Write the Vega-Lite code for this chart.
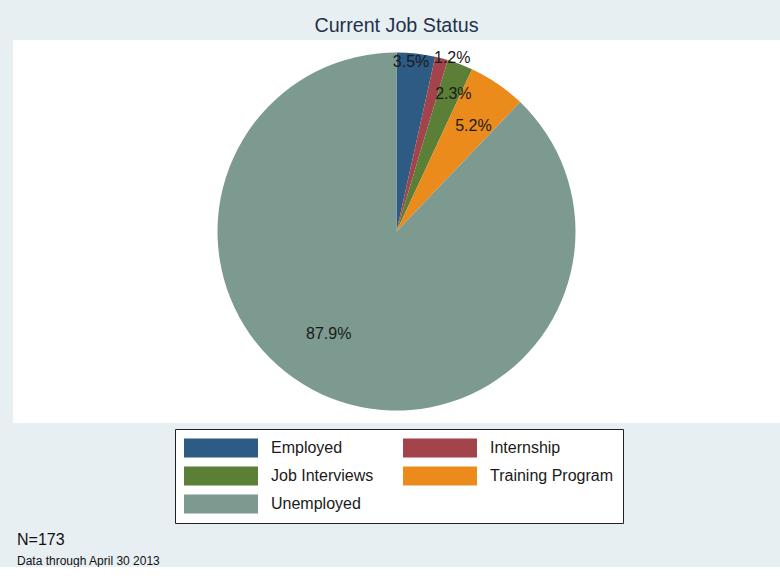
{
  "$schema": "https://vega.github.io/schema/vega-lite/v6.json",
  "background": "#e8eff2",
  "padding": {"left": 13, "right": 0, "top": 16, "bottom": 0},
  "title": {"text": "Current Job Status", "fontSize": 19.7, "fontWeight": "normal", "color": "#23314a", "font": "Liberation Sans", "offset": 4, "anchor": "middle"},
  "resolve": {"legend": {"color": "independent"}},
  "vconcat": [
    {
      "width": 767,
      "height": 383,
      "view": {"fill": "#ffffff", "stroke": null},
      "title": {"text": "N=173", "subtitle": "Data through April 30 2013", "orient": "bottom", "anchor": "start", "font": "Liberation Sans", "subtitleFont": "Liberation Sans", "fontSize": 16, "fontWeight": "normal", "subtitleFontSize": 12, "color": "#111111", "subtitleColor": "#111111", "offset": 8, "dx": 4, "subtitlePadding": 8},
      "data": {"values": [
        {"status": "Employed", "n": 6, "label": "3.5%"},
        {"status": "Internship", "n": 2, "label": "1.2%"},
        {"status": "Job Interviews", "n": 4, "label": "2.3%"},
        {"status": "Training Program", "n": 9, "label": "5.2%"},
        {"status": "Unemployed", "n": 152, "label": "87.9%"}
      ]},
      "layer": [
        {
          "mark": {"type": "arc", "outerRadius": 179, "strokeWidth": 0},
          "encoding": {
            "theta": {"field": "n", "type": "quantitative", "stack": true},
            "order": {"field": "status", "sort": "ascending"},
            "color": {
              "field": "status", "type": "nominal",
              "scale": {"domain": ["Employed", "Internship", "Job Interviews", "Training Program", "Unemployed"], "range": ["#2d5b84", "#a3444c", "#5c7f37", "#ea8b1c", "#7c9a8f"]},
              "legend": {
                "orient": "none", "legendX": 162, "legendY": 389, "columns": 2, "direction": "horizontal", "title": null,
                "symbolType": "M-1,-0.257H1V0.257H-1Z", "symbolSize": 5476, "symbolStrokeWidth": 0, "symbolOpacity": 1,
                "clipHeight": 20, "rowPadding": 8, "columnPadding": 29, "labelOffset": 13,
                "labelFontSize": 16, "labelFont": "Liberation Sans", "labelColor": "#1a1a1a", "labelLimit": 300,
                "padding": 9, "strokeColor": "#222222", "fillColor": "white",
                "encoding": {"legend": {"update": {"strokeWidth": {"value": 2}}}}
              }
            }
          }
        },
        {
          "mark": {"type": "text", "radius": 170.6, "dx": -4, "dy": 0, "fontSize": 16, "font": "Liberation Sans", "fill": "#1a1a1a", "align": "center", "baseline": "middle"},
          "encoding": {
            "theta": {"field": "n", "type": "quantitative", "stack": true},
            "order": {"field": "status", "sort": "ascending"},
            "detail": {"field": "status", "type": "nominal"},
            "text": {"condition": {"test": "datum.status === 'Employed'", "field": "label"}, "value": ""}
          }
        },
        {
          "mark": {"type": "text", "radius": 181.9, "dx": 10, "dy": 2.5, "fontSize": 16, "font": "Liberation Sans", "fill": "#1a1a1a", "align": "center", "baseline": "middle"},
          "encoding": {
            "theta": {"field": "n", "type": "quantitative", "stack": true},
            "order": {"field": "status", "sort": "ascending"},
            "detail": {"field": "status", "type": "nominal"},
            "text": {"condition": {"test": "datum.status === 'Internship'", "field": "label"}, "value": ""}
          }
        },
        {
          "mark": {"type": "text", "radius": 148.8, "dx": 4, "dy": 1.5, "fontSize": 16, "font": "Liberation Sans", "fill": "#1a1a1a", "align": "center", "baseline": "middle"},
          "encoding": {
            "theta": {"field": "n", "type": "quantitative", "stack": true},
            "order": {"field": "status", "sort": "ascending"},
            "detail": {"field": "status", "type": "nominal"},
            "text": {"condition": {"test": "datum.status === 'Job Interviews'", "field": "label"}, "value": ""}
          }
        },
        {
          "mark": {"type": "text", "radius": 130.2, "dx": 3.5, "dy": 2.5, "fontSize": 16, "font": "Liberation Sans", "fill": "#1a1a1a", "align": "center", "baseline": "middle"},
          "encoding": {
            "theta": {"field": "n", "type": "quantitative", "stack": true},
            "order": {"field": "status", "sort": "ascending"},
            "detail": {"field": "status", "type": "nominal"},
            "text": {"condition": {"test": "datum.status === 'Training Program'", "field": "label"}, "value": ""}
          }
        },
        {
          "mark": {"type": "text", "radius": 123, "dx": -22, "dy": -12, "fontSize": 16, "font": "Liberation Sans", "fill": "#1a1a1a", "align": "center", "baseline": "middle"},
          "encoding": {
            "theta": {"field": "n", "type": "quantitative", "stack": true},
            "order": {"field": "status", "sort": "ascending"},
            "detail": {"field": "status", "type": "nominal"},
            "text": {"condition": {"test": "datum.status === 'Unemployed'", "field": "label"}, "value": ""}
          }
        }
      ]
    }
  ],
  "config": {
    "view": {"fill": "#ffffff", "stroke": null},
    "font": "Liberation Sans"
  }
}
